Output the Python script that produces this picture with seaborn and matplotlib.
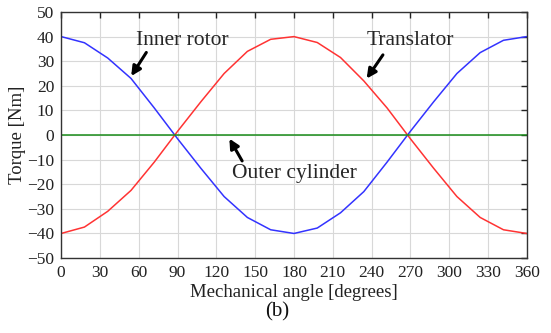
import numpy as np
import pandas as pd
import matplotlib
matplotlib.use("Agg")
import matplotlib.pyplot as plt
import seaborn as sns

# data (every 18 degrees)
angle = [0, 18, 36, 54, 72, 90, 108, 126, 144, 162, 180,
         198, 216, 234, 252, 270, 288, 306, 324, 342, 360]
inner_rotor = [40, 37.5, 31.3, 23, 11, -1.5, -13.5, -25, -33.5, -38.5, -40,
               -37.8, -31.6, -23, -11, 1.5, 13.5, 25, 33.5, 38.5, 40]
translator = [-40, -37.4, -31, -22.5, -11, 1.5, 13.5, 25, 34, 38.9, 40,
              37.6, 31.5, 22, 11, -1.5, -13.5, -25, -33.5, -38.5, -40]
outer_cylinder = [0] * 21

df = pd.DataFrame({
    "angle": angle,
    "Inner rotor": inner_rotor,
    "Translator": translator,
    "Outer cylinder": outer_cylinder,
})

sns.set_style("whitegrid", {"grid.color": "#d8d8d8", "axes.edgecolor": "#333333"})
plt.rcParams["font.family"] = ["Liberation Serif", "DejaVu Serif"]

fig = plt.figure(figsize=(5.51, 3.33), dpi=100)
ax = fig.add_axes([0.111, 0.225, 0.845, 0.739])

sns.lineplot(data=df, x="angle", y="Inner rotor", color="#3333ff", lw=1.1, ax=ax)
sns.lineplot(data=df, x="angle", y="Translator", color="#ff3333", lw=1.1, ax=ax)
sns.lineplot(data=df, x="angle", y="Outer cylinder", color="#1a8c1a", lw=1.1, ax=ax)

ax.set_xlim(0, 360)
ax.set_ylim(-50, 50)
ax.set_xticks(np.arange(0, 361, 30))
ax.set_yticks(np.arange(-50, 51, 10))
ax.tick_params(direction="in", length=4, top=True, right=True,
               labelsize=12.5, colors="#222222", width=1, pad=5)
for s in ax.spines.values():
    s.set_linewidth(1)
    s.set_color("#333333")

ax.set_xlabel("Mechanical angle [degrees]", fontsize=13.5, color="#222222", labelpad=2)
ax.set_ylabel("Torque [Nm]", fontsize=13.5, color="#222222", labelpad=1)

arrow = dict(arrowstyle="-|>", color="black", lw=2.2, mutation_scale=14)
ax.text(94, 38.5, "Inner rotor", fontsize=15.5, ha="center", va="center")
ax.annotate("", xy=(53, 23), xytext=(67, 34.5), arrowprops=arrow)
ax.text(270, 38.5, "Translator", fontsize=15.5, ha="center", va="center")
ax.annotate("", xy=(235, 22), xytext=(250, 33.5), arrowprops=arrow)
ax.text(180, -15.5, "Outer cylinder", fontsize=15.5, ha="center", va="center")
ax.annotate("", xy=(129, -0.5), xytext=(141, -11.5), arrowprops=arrow)

fig.text(0.503, 0.063, "(b)", fontsize=15, ha="center", va="center", color="#111111")

fig.savefig("out.png", dpi=100)
